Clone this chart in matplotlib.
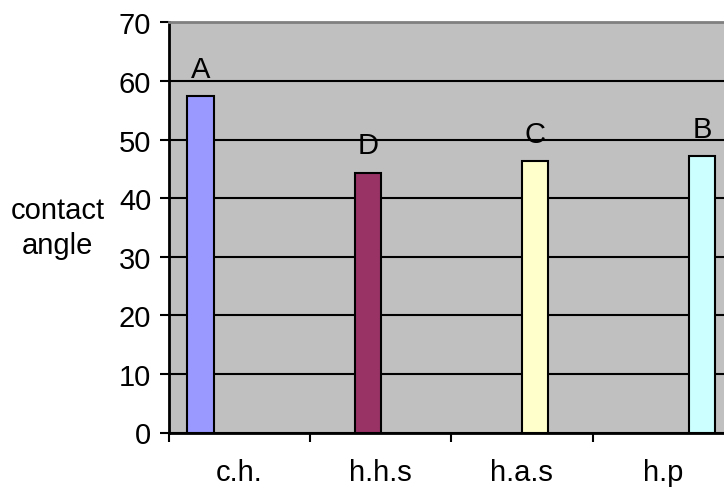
import matplotlib
matplotlib.use("Agg")
import matplotlib.pyplot as plt
import numpy as np

categories = ["c.h.", "h.h.s", "h.a.s", "h.p"]
values = [57.4, 44.3, 46.3, 47.1]
letters = ["A", "D", "C", "B"]
colors = ["#9999FF", "#993366", "#FFFFCC", "#CCFFFF"]
yticks = [0, 10, 20, 30, 40, 50, 60, 70]

plt.rcParams['font.family'] = ['Liberation Sans', 'DejaVu Sans']
FS = 21

fig = plt.figure(figsize=(7.24, 4.89), dpi=100)
ax = fig.add_axes([168.5 / 724, (489 - 433.5) / 489, (734 - 168.5) / 724, 410.2 / 489])
ax.set_facecolor("#C0C0C0")

n = len(categories)
step = 0.182
width = 0.186
x = np.arange(n)
for i in range(n):
    xi = x[i] + (i - (n - 1) / 2) * step
    ax.bar(xi, values[i], width=width, color=colors[i], edgecolor="black", linewidth=1.5, zorder=3)
    ax.annotate(letters[i], (xi, values[i]), xytext=(0, 14), textcoords="offset points",
                ha="center", va="baseline", fontsize=FS, zorder=4)

ax.set_xlim(-0.5, n - 0.5)
ax.set_ylim(0, 70)
ax.set_yticks(yticks)
ax.set_yticklabels([str(t) for t in yticks], fontsize=FS)
ax.yaxis.grid(True, color="black", linewidth=1.5, zorder=1)
ax.set_axisbelow(True)

ax.set_xticks(np.arange(n + 1) - 0.5)
ax.set_xticklabels([])
ax.set_xticks(x, minor=True)
ax.set_xticklabels(categories, minor=True, fontsize=FS)
ax.tick_params(axis="x", which="minor", length=0, pad=18.5)
ax.tick_params(axis="x", which="major", length=6.5, width=1.5, direction="out")
ax.tick_params(axis="y", length=6.5, width=1.5, direction="out", pad=6)

for s in ["left", "bottom"]:
    ax.spines[s].set_color("black")
    ax.spines[s].set_linewidth(2)
for s in ["top", "right"]:
    ax.spines[s].set_color("#808080")
    ax.spines[s].set_linewidth(2)

fig.text(57.5 / 724, 1 - 228.5 / 489, "contact\nangle", ha="center", va="center", fontsize=FS,
         linespacing=1.3)

fig.savefig("out.png", dpi=100)
